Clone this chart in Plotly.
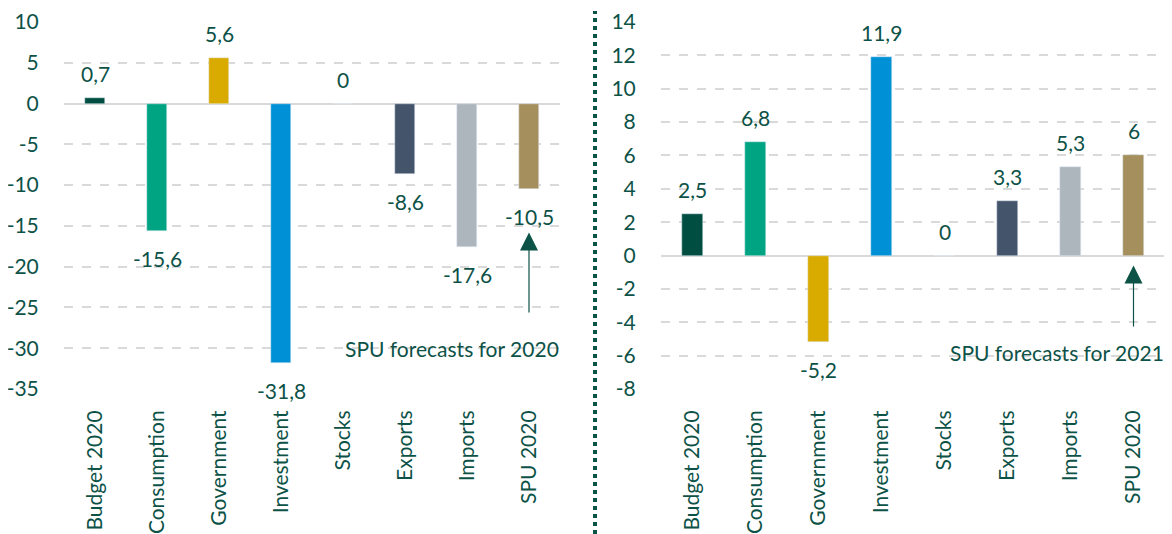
import plotly.graph_objects as go

categories = ["Budget 2020", "Consumption", "Government", "Investment",
              "Stocks", "Exports", "Imports", "SPU 2020"]
values_2020 = [0.7, -15.6, 5.6, -31.8, 0, -8.6, -17.6, -10.5]
values_2021 = [2.5, 6.8, -5.2, 11.9, 0, 3.3, 5.3, 6]
bar_colors = ["#004E41", "#00A482", "#D9AB00", "#0090D5",
              "#FFFFFF", "#44546A", "#ADB5BD", "#A58F5C"]
ticks_left = [10, 5, 0, -5, -10, -15, -20, -25, -30, -35]
ticks_right = [14, 12, 10, 8, 6, 4, 2, 0, -2, -4, -6, -8]
notes = ["SPU forecasts for 2020", "SPU forecasts for 2021"]

TXT = "#0D5247"
GRID = "#D9D9D9"
FONT = "Lato"
FS = 21
OFF = 8  # page body margin offset
W, H = 1172 - OFF, 534 - OFF
TOP, BOT = 22 - OFF, 389 - OFF  # plot area in figure pixels
PH = BOT - TOP


def px(x):
    return (x - OFF) / W


def fmt(v):
    return ("%g" % v).replace(".", ",")


fig = go.Figure()
fig.add_trace(go.Bar(x=categories, y=values_2020, marker_color=bar_colors,
                     width=0.32, xaxis="x", yaxis="y", showlegend=False,
                     hoverinfo="x+y"))
fig.add_trace(go.Bar(x=categories, y=values_2021, marker_color=bar_colors,
                     width=0.32, xaxis="x2", yaxis="y2", showlegend=False,
                     hoverinfo="x+y"))

annotations = []
for vals, xr, yr in [(values_2020, "x", "y"), (values_2021, "x2", "y2")]:
    for c, v in zip(categories, vals):
        pos = v >= 0
        annotations.append(dict(
            x=c, y=v, xref=xr, yref=yr, text=fmt(v), showarrow=False,
            yanchor="bottom" if pos else "top",
            yshift=10 if pos else -13,
            font=dict(family=FONT, size=FS, color=TXT)))

# arrows and notes
annotations.append(dict(x="SPU 2020", y=-15.8, xref="x", yref="y",
                        ax="SPU 2020", ay=-25.8, axref="x", ayref="y",
                        text="", showarrow=True, arrowhead=2, arrowsize=3,
                        arrowwidth=1.2, arrowcolor=TXT))
annotations.append(dict(x="SPU 2020", y=-0.6, xref="x2", yref="y2",
                        ax="SPU 2020", ay=-4.35, axref="x2", ayref="y2",
                        text="", showarrow=True, arrowhead=2, arrowsize=3,
                        arrowwidth=1.2, arrowcolor=TXT))
annotations.append(dict(x=px(561), y=-30, xref="paper", yref="y",
                        text=notes[0], showarrow=False, xanchor="right",
                        yanchor="middle",
                        font=dict(family=FONT, size=FS, color=TXT)))
annotations.append(dict(x=px(1166), y=-5.8, xref="paper", yref="y2",
                        text=notes[1], showarrow=False, xanchor="right",
                        yanchor="middle",
                        font=dict(family=FONT, size=FS, color=TXT)))

xcommon = dict(range=[-0.5, 7.5], tickangle=-90, showgrid=False,
               zeroline=False, showline=False, ticks="outside", ticklen=12,
               tickcolor="rgba(0,0,0,0)", automargin=False,
               tickfont=dict(family=FONT, size=FS, color=TXT))
ycommon = dict(showgrid=True, gridcolor=GRID, gridwidth=1.5, griddash="dash",
               zeroline=True, zerolinecolor=GRID, zerolinewidth=2,
               showline=False, ticks="outside", ticklen=20,
               tickcolor="rgba(0,0,0,0)", automargin=False,
               tickfont=dict(family=FONT, size=FS, color=TXT))

fig.update_layout(
    width=W, height=H,
    margin=dict(l=0, r=0, t=TOP, b=H - BOT),
    paper_bgcolor="white", plot_bgcolor="white",
    bargap=0,
    xaxis=dict(domain=[px(64), px(560)], anchor="y", **xcommon),
    xaxis2=dict(domain=[px(661), px(1165)], anchor="y2", **xcommon),
    yaxis=dict(range=[-35, 10], anchor="x", tickvals=ticks_left,
               ticktext=[fmt(t) for t in ticks_left], **ycommon),
    yaxis2=dict(range=[-8, 14], anchor="x2", tickvals=ticks_right,
                ticktext=[fmt(t) for t in ticks_right], **ycommon),
    annotations=annotations,
    shapes=[dict(type="line", xref="paper", yref="paper",
                 x0=px(595), x1=px(595),
                 y0=-(H - BOT) / PH, y1=(PH + TOP - (11 - OFF)) / PH,
                 line=dict(color="#0B5247", width=4, dash="4px,4px"))],
)

fig.write_html("out.html")
